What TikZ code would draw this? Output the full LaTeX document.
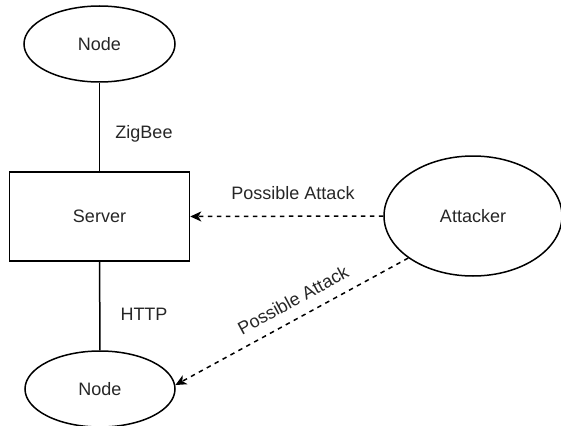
\documentclass[tikz,border=0pt]{standalone}
\usepackage{fontspec}
\setmainfont{Liberation Sans}
\usetikzlibrary{shapes.geometric,arrows.meta}
\begin{document}
\begin{tikzpicture}[x=1pt,y=-1pt,
  every node/.style={font=\fontsize{18}{20}\selectfont, text=black!85},
  oval/.style={draw, ellipse, line width=1.5pt, inner sep=0pt},
  boxnode/.style={draw, rectangle, line width=1.5pt, inner sep=0pt, minimum width=180pt, minimum height=89pt},
  link/.style={line width=1.5pt},
  attack/.style={line width=1.5pt, dash pattern=on 4.5pt off 4.5pt, -{Stealth[length=11pt,width=10pt,inset=3pt]}},
  lbl/.style={inner sep=0pt}
]
\useasboundingbox (0,0) rectangle (561,425);
\node[oval, minimum width=151pt, minimum height=76pt] (top) at (99.5,44) {Node};
\node[boxnode] (srv) at (99.5,216.5) {Server};
\node[oval, minimum width=150pt, minimum height=76pt] (bot) at (100,389) {Node};
\node[oval, minimum width=178pt, minimum height=120pt] (att) at (473,216) {Attacker};
\draw[link] (top) -- (srv);
\draw[link] (srv) -- (bot);
\draw[attack] (att.west) -- (srv.east);
\draw[attack] (att.213.7) -- (bot.3);
\node[lbl] (zb) at (144,134) {ZigBee};
\node[lbl] (http) at (144,314) {HTTP};
\node[lbl] (pa1) at (293,193) {Possible Attack};
\node[lbl, rotate=28.5] (pa2) at (293,300) {Possible Attack};
\end{tikzpicture}
\end{document}
